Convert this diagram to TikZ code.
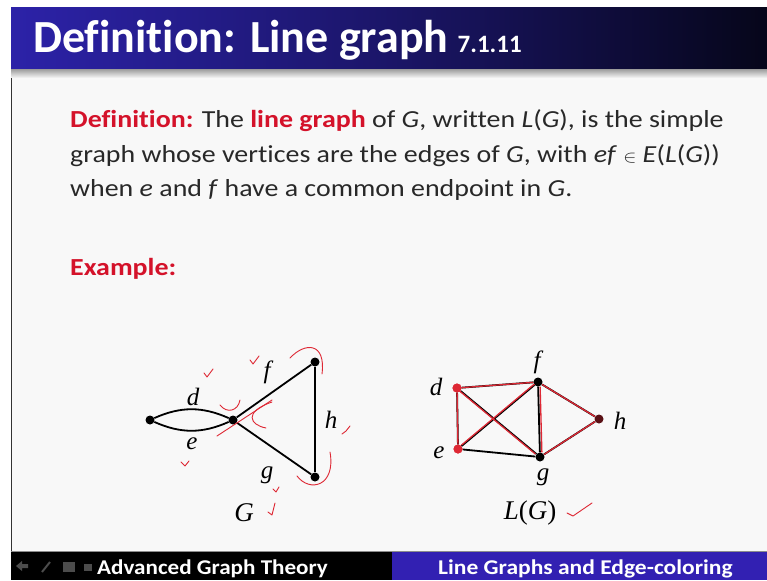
\documentclass[tikz,border=0pt]{standalone}
\usepackage{fontspec}
\setmainfont{Carlito}[Ligatures=NoCommon]
\newfontfamily\labelfont{Liberation Serif}
\usetikzlibrary{positioning}

\definecolor{titleblue}{RGB}{44,34,168}
\definecolor{deepnavy}{RGB}{6,6,26}
\definecolor{footblue}{RGB}{50,32,178}
\definecolor{slidered}{RGB}{212,18,42}
\definecolor{inkred}{RGB}{222,40,52}
\definecolor{bodygray}{RGB}{248,248,248}
\definecolor{textgray}{RGB}{40,40,40}

\newcommand{\wide}[1]{\scalebox{1.14}[1]{#1}}

\tikzset{
  vtx/.style={circle, fill=black, inner sep=0pt, minimum size=9pt},
  lbl/.style={font=\labelfont\itshape\fontsize{25}{25}\selectfont},
  gedge/.style={line width=1.8pt},
  trace/.style={inkred, line width=1.3pt},
  tick/.style={inkred, line width=0.9pt, line cap=round, line join=round},
  bodytext/.style={anchor=base west, inner sep=0pt, text=textgray,
                   font=\fontsize{24.5}{24.5}\selectfont},
  foottext/.style={anchor=base west, inner sep=0pt, text=white,
                   font=\bfseries\fontsize{21}{21}\selectfont}
}

\begin{document}
\begin{tikzpicture}[x=1pt, y=-1pt]
  \useasboundingbox (0,0) rectangle (767,580);
  \fill[white] (0,0) rectangle (767,580);

  % Slide body
  \fill[bodygray] (11,77) rectangle (767,552);
  \draw[black!80, line width=1.2pt] (11.5,8) -- (11.5,552);

  % Title bar
  \shade[left color=titleblue, right color=deepnavy, middle color=titleblue!55!deepnavy]
    (11,8) rectangle (767,70);
  \shade[top color=black!35, bottom color=bodygray] (11,70) rectangle (767,78);
  \node[anchor=base west, inner sep=0pt, text=white,
        font=\bfseries\fontsize{46}{46}\selectfont] (title) at (33,53)
    {Definition: Line graph};
  \node[inner sep=0pt, text=white, font=\bfseries\fontsize{25}{25}\selectfont,
        right=9pt of title.base east, anchor=base west]
    (number) {7.1.11};

  % Definition text
  \node[bodytext] (line1) at (70,128)
    {\wide{\textcolor{slidered}{\bfseries Definition:} The \textcolor{slidered}{\bfseries line graph} of \textit{G}, written \textit{L}(\textit{G}), is the simple}};
  \node[bodytext] (line2) at (70,162)
    {\wide{graph whose vertices are the edges of \textit{G}, with \textit{ef} {\fontsize{18}{18}\selectfont$\in$} \textit{E}(\textit{L}(\textit{G}))}};
  \node[bodytext] (line3) at (70,196)
    {\wide{when \textit{e} and \textit{f} have a common endpoint in \textit{G}.}};
  \node[bodytext, text=slidered, font=\bfseries\fontsize{24.5}{24.5}\selectfont] (example) at (70,275)
    {\wide{Example:}};

  % Graph G
  \node[vtx] (gl) at (150,420) {};
  \node[vtx] (gm) at (233,420) {};
  \node[vtx] (gt) at (315,362) {};
  \node[vtx] (gb) at (315,477) {};
  \draw[gedge] (gl) to[bend left=24] (gm);
  \draw[gedge] (gl) to[bend right=24] (gm);
  \draw[gedge] (gm) -- (gt);
  \draw[gedge] (gt) -- (gb);
  \draw[gedge] (gb) -- (gm);
  \node[lbl] (gd) at (193,397) {d};
  \node[lbl] (ge) at (192,444) {e};
  \node[lbl] (gf) at (267,372) {f};
  \node[lbl] (gh) at (331,420) {h};
  \node[lbl] (gg) at (267,475) {g};
  \node[lbl, font=\labelfont\itshape\fontsize{27}{27}\selectfont] (gname) at (244,513) {G};

  % Hand marks on G
  \draw[tick] (204,373) -- (207,377) -- (213,369);
  \draw[tick] (250,360) -- (253,364) -- (259,356);
  \draw[tick] (181,462) -- (185,466) -- (189,461);
  \draw[tick] (342,434) -- (346,431) -- (350,426);
  \draw[tick] (273,489) -- (276,492) -- (279,487);
  \draw[tick] (268,512) -- (272,515) -- (275,503);
  \draw[tick] (290,358) .. controls (305,342) and (326,342) .. (322,374);
  \draw[tick] (297,476) .. controls (310,493) and (336,486) .. (330,452);
  \draw[tick] (220,405) .. controls (227,414) and (238,411) .. (240,400);
  \draw[tick] (217,436) -- (272,400);
  \draw[tick] (272,402) .. controls (243,412) and (250,425) .. (266,428);

  % Line graph L(G)
  \node[vtx] (lf) at (538,382) {};
  \node[vtx] (lg) at (540,457) {};
  \node[vtx, fill=black!60!inkred] (lh) at (599,419) {};
  \draw[gedge] (lf) -- (lg);
  \draw[gedge] (lf) -- (lh);
  \draw[gedge] (lg) -- (lh);
  \node[vtx, fill=inkred] (ld) at (457,388) {};
  \node[vtx, fill=inkred] (le) at (458,449) {};
  \draw[gedge] (ld) -- (lf);
  \draw[gedge] (ld) -- (le);
  \draw[gedge] (ld) -- (lg);
  \draw[gedge] (le) -- (lf);
  \draw[gedge] (le) -- (lg);
  % red tracing over the edges
  \draw[trace] (ld) -- (lf);
  \draw[trace] (ld) -- (le);
  \draw[trace, transform canvas={xshift=-1pt}] (ld) -- (lg);
  \draw[trace, transform canvas={yshift=1pt}] (le) -- (lf);
  \draw[trace, transform canvas={xshift=2pt}] (lf) -- (lg);
  \draw[trace] (lf) -- (lh);
  \draw[trace] (lg) -- (lh);
  \node[vtx, fill=inkred] at (ld) {};
  \node[vtx, fill=inkred] at (le) {};
  \node[lbl] (ldl) at (436,387) {d};
  \node[lbl] (lel) at (439,453) {e};
  \node[lbl] (lfl) at (537,362) {f};
  \node[lbl] (lhl) at (620,421) {h};
  \node[lbl] (lgl) at (543,477) {g};
  \node[lbl, font=\labelfont\fontsize{27}{27}\selectfont] (lname) at (530,513)
    {\textit{L}(\textit{G})};
  \draw[tick] (567,513) -- (573,516) -- (592,503);

  % Footer
  \draw[black!45, line width=1pt] (11,551.5) -- (767,551.5);
  \fill[black] (11,552) rectangle (392,580);
  \fill[footblue] (392,552) rectangle (767,580);
  \node[foottext] (course) at (97,574) {\scalebox{1.1}[1]{Advanced Graph Theory}};
  \node[foottext] (topic) at (438,574) {\scalebox{1.12}[1]{Line Graphs and Edge-coloring}};
  % faint navigation icons
  \fill[black!70] (16,566) -- (22,561) -- (22,564) -- (28,564) -- (28,568) -- (22,568) -- (22,571) -- cycle;
  \draw[black!70, line width=2pt] (42,572) -- (50,562);
  \fill[black!70] (63,562) rectangle (75,572);
  \fill[black!70] (84,564) rectangle (92,571);
\end{tikzpicture}
\end{document}
